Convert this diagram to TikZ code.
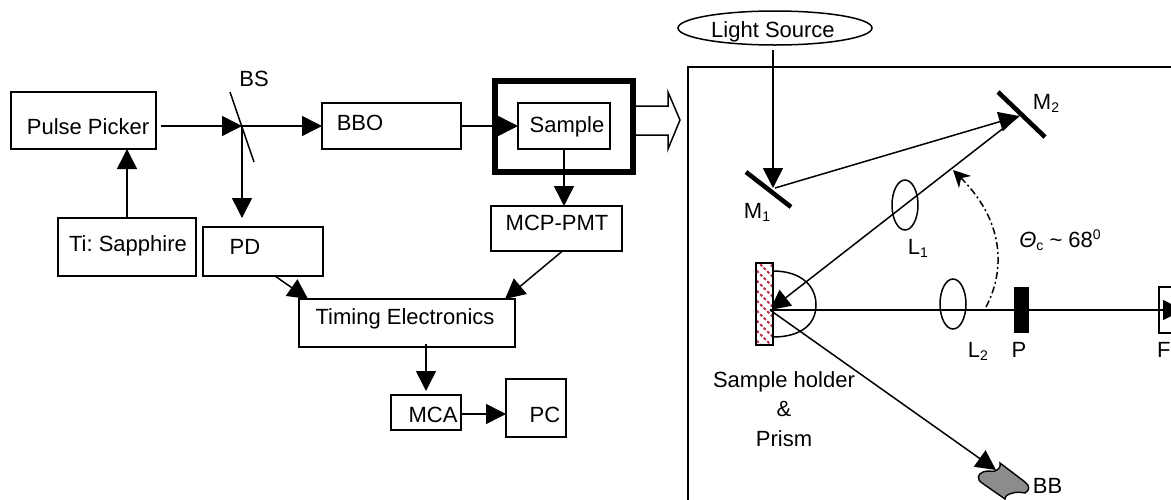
\documentclass[tikz,border=0pt]{standalone}
\usepackage{fontspec}
\setmainfont{Liberation Sans}
\usetikzlibrary{arrows.meta,calc,shapes.geometric}
\definecolor{hatchred}{RGB}{190,50,75}
\definecolor{bbgrey}{RGB}{140,140,140}
\newcommand{\sbs}[1]{\raisebox{-3pt}{\fontsize{14}{14}\selectfont #1}}
\tikzset{
  box/.style={draw=black,rectangle,line width=1.4pt,inner sep=0pt,outer sep=0pt},
  txt/.style={inner sep=0pt,outer sep=0pt,font=\fontsize{22}{26}\selectfont\frenchspacing,align=center},
  ray/.style={line width=1.5pt,-{Triangle[length=20pt,width=20pt]}},
  plainray/.style={line width=1.5pt},
  mirror/.style={line width=4.6pt},
  lens/.style={draw=black,ellipse,line width=1.5pt,inner sep=0pt,outer sep=0pt,minimum width=26pt,minimum height=50pt}
}
\begin{document}
\begin{tikzpicture}[x=1pt,y=-1pt]
\useasboundingbox (0,0) rectangle (1171,499);
\clip (0,0) rectangle (1171,499);
% left block diagram
\node[box,minimum width=145pt,minimum height=57pt] (pp) at (83.5,120.5) {};
\node[box,minimum width=138pt,minimum height=58pt] (ti) at (127,247) {};
\node[box,minimum width=120pt,minimum height=49pt] (pd) at (263,251.5) {};
\node[box,minimum width=139pt,minimum height=46pt] (bbo) at (391.5,126) {};
\node[box,line width=5.3pt,minimum width=138pt,minimum height=91pt] (hold) at (564,126.5) {};
\node[box,minimum width=92pt,minimum height=46pt] (smp) at (564,126) {};
\node[box,minimum width=131pt,minimum height=45pt] (mcp) at (556.5,228.5) {};
\node[box,minimum width=216pt,minimum height=48pt] (te) at (407,323) {};
\node[box,minimum width=70pt,minimum height=35pt] (mca) at (426,412.5) {};
\node[box,minimum width=60pt,minimum height=58pt] (pc) at (536,408) {};
\node[txt] (tpp) at (88,127) {Pulse Picker};
\node[txt] (tti) at (128,246) {Ti: Sapphire};
\node[txt] (tpd) at (245,247) {PD};
\node[txt] (tbbo) at (360,123) {BBO};
\node[txt] (tsmp) at (567,127) {Sample};
\node[txt] (tmcp) at (557,223) {MCP-PMT};
\node[txt] (tte) at (405,319) {Timing Electronics};
\node[txt] (tmca) at (433,415) {MCA};
\node[txt] (tpc) at (545,415) {PC};
\node[txt] (tbs) at (254,79) {BS};
\coordinate (bsa) at (230,92);
\coordinate (bsb) at (254,162);
\coordinate (bsp) at (242,126);
\draw[plainray] (bsa) -- (bsb);
\draw[ray] ([xshift=5pt]pp.east |- bsp) -- (bsp);
\draw[ray] (bsp) -- (bbo.west |- bsp);
\draw[ray] (bsp) -- ([yshift=9pt]pd.north -| bsp);
\draw[ray] (ti.north -| 127,0) -- (pp.south -| 127,0);
\draw[ray] (bbo.east) -- (smp.west);
\draw[ray] (smp.south) -- (mcp.north -| smp.south);
\draw[ray] ([xshift=6pt]mcp.south) -- ([xshift=98pt]te.north);
\draw[ray] ([xshift=12pt]pd.south) -- ([xshift=-99pt]te.north);
\draw[ray] ([yshift=3pt]te.south -| 426,0) -- ([yshift=4pt]mca.north);
\draw[ray] (mca.east |- 0,414) -- (pc.west |- 0,414);
% hollow arrow
\coordinate (ha1) at (636,106);
\coordinate (ha2) at (668,106);
\coordinate (ha3) at (668,92);
\coordinate (ha4) at (680,120);
\coordinate (ha5) at (668,149);
\coordinate (ha6) at (668,135);
\coordinate (ha7) at (636,135);
\draw[plainray,line join=miter] (ha1) -- (ha2) -- (ha3) -- (ha4) -- (ha5) -- (ha6) -- (ha7);
% right panel
\draw[line width=1.5pt] (1180,67) -- (688,67) -- (688,510);
\node[draw=black,ellipse,line width=1.5pt,minimum width=194pt,minimum height=34pt,inner sep=0pt,outer sep=0pt] (ls) at (775,28) {};
\node[txt] (tls) at (773,32) {Light Source};
\coordinate (m1p) at (773,188);
\coordinate (m2p) at (1019,116);
\coordinate (sp) at (770,310);
\coordinate (m1a) at (746,172);
\coordinate (m1b) at (791,207);
\coordinate (m2a) at (998,92);
\coordinate (m2b) at (1045,137);
\draw[mirror] (m1a) -- (m1b);
\draw[mirror] (m2a) -- (m2b);
\draw[ray] (773,50) -- (m1p);
\draw[ray] (775,188) -- (m2p);
\draw[ray] (m2p) -- (sp);
\node[txt] (tm1) at (757,212) {M\sbs{1}};
\node[txt] (tm2) at (1046,103) {M\sbs{2}};
\node[lens] (l1) at (905,205) {};
\node[lens] (l2) at (953,304) {};
\node[txt] (tl1) at (918,248) {L\sbs{1}};
\node[txt] (tl2) at (978,351) {L\sbs{2}};
\node[txt] (tth) at (1060,240) {\textit{Θ}\sbs{c} \char`\~{} 68\raisebox{8pt}{\fontsize{14}{14}\selectfont 0}};
% prism and sample holder
\draw[line width=1.5pt] (773,271) .. controls (800,271) and (816,285) .. (816,305) .. controls (816,325) and (800,337) .. (773,337);
\begin{scope}
\clip (756,263) rectangle (773,345);
\fill[white] (756,263) rectangle (773,345);
\foreach \k in {0,10,...,110}{
  \draw[hatchred,line width=1.8pt,dash pattern=on 3pt off 2pt] (746,\k+240) -- (786,\k+280);
}
\end{scope}
\draw[line width=1.4pt] (756,263) rectangle (773,345);
\node[txt] (tsh) at (784,409) {Sample holder\\[3.6pt]\&\\[3.6pt]Prism};
% optical axis
\coordinate (fp) at (1183,310);
\node[box,minimum width=60pt,minimum height=46pt] (fb) at (1189,310) {};
\node[draw=none,fill=black,minimum width=15pt,minimum height=46pt,inner sep=0pt,outer sep=0pt] (pol) at (1021.5,310) {};
\draw[ray] (sp) -- (fp);
\node[txt] (tp) at (1019,350) {P};
\node[txt,anchor=west] (tf) at (1157,350) {F};
% dashed arc
\coordinate (dst) at (986,307);
\coordinate (den) at (953,170);
\draw[line width=1.5pt,dash pattern=on 7pt off 3pt on 2pt off 3pt,-{Stealth[length=17pt,width=17pt]}] (dst) .. controls (1003,275) and (1008,225) .. (den);
% beam dump
\draw[draw=black,fill=bbgrey,line width=1.4pt] (983,472) .. controls (988,470) and (992,472) .. (995,471) .. controls (999,469) and (1001,467) .. (1000,463) -- (1025,482) .. controls (1030,486) and (1030,490) .. (1025,493) .. controls (1020,492) and (1016,492) .. (1013,493) .. controls (1008,494) and (1005,496) .. (1005,499) -- (982,483) .. controls (977,480) and (977,474) .. (983,472) -- cycle;
\coordinate (bbp) at (996,470);
\draw[ray] (sp) -- (bbp);
\node[txt] (tbb) at (1047.5,486) {BB};
\end{tikzpicture}
\end{document}
